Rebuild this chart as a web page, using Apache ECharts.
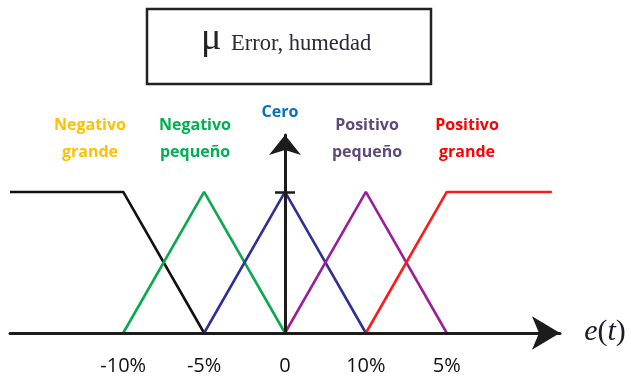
<!DOCTYPE html>
<html>
<head>
<meta charset="utf-8">
<script src="https://cdn.jsdelivr.net/npm/echarts@6/dist/echarts.min.js"></script>
<style>
  html, body { margin: 0; padding: 0; background: #fff; }
  #chart { width: 631px; height: 379px; }
</style>
</head>
<body>
<div id="chart"></div>
<script>
// Fuzzy membership functions for the humidity error e(t)
const tickValues = [-2, -1, 0, 1, 2];
const tickLabels = ['-10%', '-5%', '0', '10%', '5%'];
const setNames = ['Negativo\ngrande', 'Negativo\npequeño', 'Cero', 'Positivo\npequeño', 'Positivo\ngrande'];

const negativoGrande = [[-3.4, 1], [-2, 1], [-1, 0]];
const negativoPequeno = [[-2, 0], [-1, 1], [0, 0]];
const cero = [[-1, 0], [0, 1], [1, 0]];
const positivoPequeno = [[0, 0], [1, 1], [2, 0]];
const positivoGrande = [[1, 0], [2, 1], [3.3, 1]];

const lineColors = ['#111111', '#0aa84f', '#2e3192', '#9b1f9b', '#ff1a1a'];
const textColors = ['#ffc000', '#00b050', '#0070c0', '#5f497a', '#ff0000'];

const X_MIN = -3.4, X_MAX = 3.4, Y_MAX = 1.404;
const GRID = { left: 10, right: 71, top: 135, bottom: 46 };
const gridWidth = 631 - GRID.left - GRID.right;
const yAxisOffset = -gridWidth * (0 - X_MIN) / (X_MAX - X_MIN);

const chart = echarts.init(document.getElementById('chart'), null, { renderer: 'canvas' });

function lineSeries(data, color) {
  return {
    type: 'line',
    data: data,
    symbol: 'none',
    clip: false,
    lineStyle: { color: color, width: 2.6 },
    z: 2
  };
}

const axisColor = '#1c1c1c';

chart.setOption({
  animation: false,
  backgroundColor: '#ffffff',
  grid: GRID,
  xAxis: {
    type: 'value',
    min: X_MIN,
    max: X_MAX,
    position: 'bottom',
    z: 3,
    axisLine: {
      onZero: false,
      symbol: ['none', 'arrow'],
      symbolSize: [25, 28],
      lineStyle: { color: axisColor, width: 3 }
    },
    axisTick: { show: false },
    splitLine: { show: false },
    axisLabel: {
      customValues: tickValues,
      formatter: v => tickLabels[tickValues.indexOf(Math.round(v))],
      fontFamily: 'Open Sans',
      fontSize: 20,
      color: '#111',
      margin: 23
    }
  },
  yAxis: [{
    type: 'value',
    min: 0,
    max: Y_MAX,
    position: 'left',
    offset: yAxisOffset,
    z: 3,
    axisLine: {
      show: true,
      onZero: false,
      symbol: ['none', 'arrow'],
      symbolSize: [24, 20],
      lineStyle: { color: axisColor, width: 3 }
    },
    axisTick: { show: true, customValues: [1], length: 10, lineStyle: { color: axisColor, width: 2.5 } },
    axisLabel: { show: false },
    splitLine: { show: false }
  }, {
    type: 'value',
    min: 0,
    max: Y_MAX,
    position: 'left',
    offset: yAxisOffset,
    z: 3,
    axisLine: { show: false, onZero: false },
    axisTick: { show: true, inside: true, customValues: [1], length: 10, lineStyle: { color: axisColor, width: 2.5 } },
    axisLabel: { show: false },
    splitLine: { show: false }
  }],
  series: [
    lineSeries(negativoGrande, lineColors[0]),
    lineSeries(negativoPequeno, lineColors[1]),
    lineSeries(cero, lineColors[2]),
    lineSeries(positivoPequeno, lineColors[3]),
    lineSeries(positivoGrande, lineColors[4])
  ],
  graphic: [
    {
      type: 'rect',
      shape: { x: 147, y: 9, width: 284, height: 75 },
      style: { fill: '#fff', stroke: '#222', lineWidth: 2.5 }
    },
    {
      type: 'text', x: 201, y: 39,
      style: { text: 'μ', font: '38px "Liberation Serif"', fill: '#222', verticalAlign: 'middle' }
    },
    {
      type: 'text', x: 231, y: 44,
      style: { text: 'Error, humedad', font: '22.5px "Liberation Serif"', fill: '#2a2a3a', verticalAlign: 'middle' }
    },
    {
      type: 'text', x: 605, y: 332,
      style: {
        text: '{i|e}{n|(}{i|t}{n|)}',
        align: 'center', verticalAlign: 'middle',
        rich: {
          i: { font: 'italic 30px "Liberation Serif"', fill: '#1a1a2a' },
          n: { font: '30px "Liberation Serif"', fill: '#1a1a2a' }
        }
      }
    },
    ...[[90, 111.5], [195, 111.5], [280, 99], [367, 111.5], [467, 111.5]].map((p, i) => ({
      type: 'text', x: p[0], y: p[1],
      style: {
        text: setNames[i],
        font: 'bold 16px "Open Sans"',
        fill: textColors[i],
        align: 'center', verticalAlign: 'top',
        lineHeight: 27
      }
    }))
  ]
});
</script>
</body>
</html>
